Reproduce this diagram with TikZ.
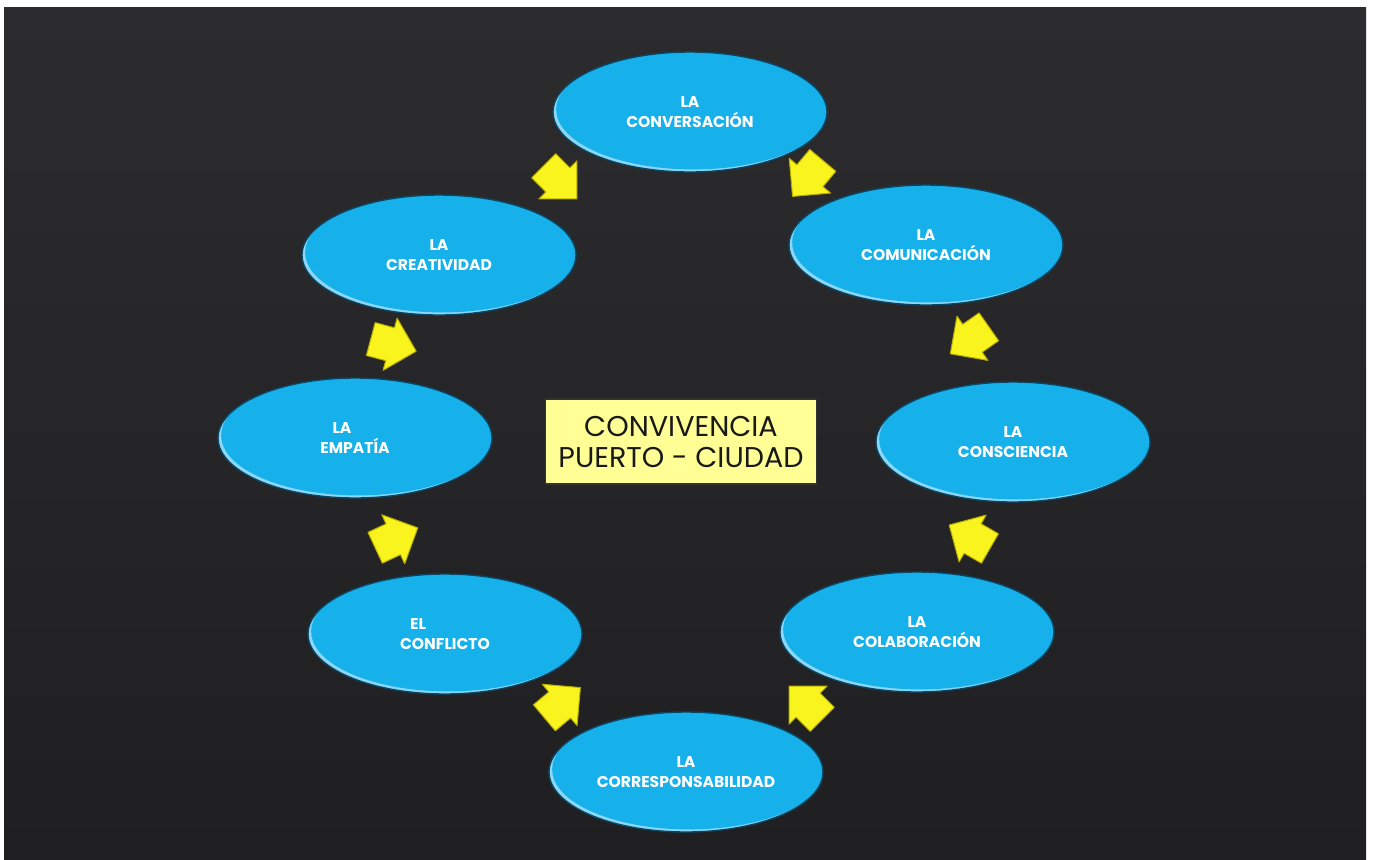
\documentclass[tikz,border=0pt]{standalone}
\usepackage{fontspec}
\setmainfont{Poppins}
\usetikzlibrary{shapes.geometric}
\definecolor{bgtop}{RGB}{44,44,46}
\definecolor{bgbot}{RGB}{31,31,33}
\definecolor{cyanfill}{RGB}{22,177,235}
\definecolor{cyanrim}{RGB}{140,215,245}
\definecolor{cyanedge}{RGB}{10,70,100}
\definecolor{arrowyellow}{RGB}{250,244,30}
\definecolor{arrowedge}{RGB}{185,175,0}
\definecolor{boxyellow}{RGB}{255,255,150}
\begin{document}
\begin{tikzpicture}[x=0.5pt,y=-0.5pt,
  bubble/.style={shape=ellipse, minimum width=137pt, minimum height=60pt, inner sep=0pt,
    fill=cyanrim, draw=cyanedge, line width=0.7pt, text=white,
    font=\fontsize{7.8}{10}\selectfont\bfseries, align=center,
    path picture={\fill[cyanfill] ([shift={(1.6pt,1.3pt)}]path picture bounding box.center)
      ellipse [x radius=68.5pt, y radius=30pt];}},
  titlebox/.style={shape=rectangle, minimum width=135.5pt, minimum height=42.5pt, inner sep=0pt,
    fill=boxyellow, draw=black!80, line width=0.6pt, text=black!90,
    font=\fontsize{14.3}{15.5}\selectfont, align=center},
  blockarrow/.pic={\filldraw[fill=arrowyellow, draw=arrowedge, line width=0.5pt, line join=round]
    (-23,-17) -- (-3,-17) -- (-3,-27) -- (24,0) -- (-3,27) -- (-3,17) -- (-23,17) -- cycle;}
]
\useasboundingbox (0,0) rectangle (1373,859);
\fill[white] (0,0) rectangle (1373,859);
\shade[top color=bgtop, bottom color=bgbot] (4,7) rectangle (1366,859);

% nodes
\node[bubble] (conv) at (690,112) {LA\\CONVERSACIÓN};
\node[bubble] (comu) at (926,245) {LA\\COMUNICACIÓN};
\node[bubble] (cons) at (1013,442) {LA\\CONSCIENCIA};
\node[bubble] (cola) at (917,632) {LA\\COLABORACIÓN};
\node[bubble] (corr) at (686,772) {LA\\CORRESPONSABILIDAD};
\node[bubble] (conf) at (445,634) {EL\hspace*{27pt}\\CONFLICTO};
\node[bubble] (empa) at (355,438) {LA\hspace*{13pt}\\EMPATÍA};
\node[bubble] (crea) at (439,255) {LA\\CREATIVIDAD};

\node[titlebox] (title) at (681,441.5) {CONVIVENCIA\\PUERTO - CIUDAD};

% arrows
\pic[rotate=-45]  at (560,182) {blockarrow};
\pic[rotate=-130] at (808,178) {blockarrow};
\pic[rotate=-145] at (970,340) {blockarrow};
\pic[rotate=150]  at (970,537) {blockarrow};
\pic[rotate=135]  at (806,703) {blockarrow};
\pic[rotate=40]   at (562,703) {blockarrow};
\pic[rotate=25]   at (396,538) {blockarrow};
\pic[rotate=-15]  at (393,345) {blockarrow};
\end{tikzpicture}
\end{document}
